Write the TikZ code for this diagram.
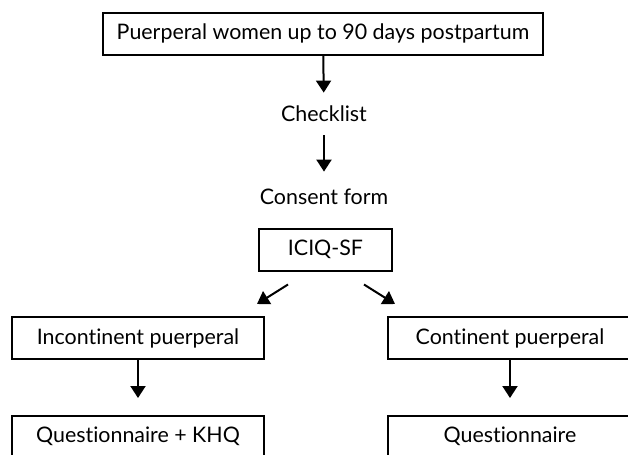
\documentclass[tikz,border=0pt]{standalone}
\usepackage{fontspec}
\setmainfont{Lato}[Ligatures=NoCommon]
\usetikzlibrary{arrows.meta,positioning,calc}

\begin{document}
\begin{tikzpicture}[
  x=0.5pt, y=-0.5pt,
  every node/.style={font=\fontsize{10.7}{12}\selectfont},
  box/.style={draw=black, line width=1pt, minimum height=21pt, inner sep=0pt},
  lbl/.style={minimum height=21pt, inner sep=0pt},
  arr/.style={-{Triangle[length=6pt,width=7.5pt]}, line width=1pt}
]
\clip (0,0) rectangle (628,455);

\node[box, minimum width=220pt] (women) at (323,33.5) {Puerperal women up to 90 days postpartum};
\node[lbl] (check) at (324,114) {Checklist};
\node[lbl, minimum height=25pt] (consent) at (324,197) {Consent form};
\node[box, minimum width=66.5pt] (iciq) at (325.5,249.5) {ICIQ-SF};

\node[box, minimum width=126pt] (incont) at (138,338) {Incontinent puerperal};
\node[box, minimum width=122pt] (cont) at (510,338) {Continent puerperal};
\node[box, minimum width=126pt, minimum height=20pt] (qkhq) at (138,436) {Questionnaire + KHQ};
\node[box, minimum width=122pt, minimum height=20pt] (quest) at (510,436) {Questionnaire};

\draw[arr] (women) -- (check);
\draw[arr] (check) -- (consent);
\draw[arr] ($(iciq.south)+(-37.5,13)$) -- ($(incont.north east)+(-8,-12)$);
\draw[arr] ($(iciq.south)+(38.5,13)$) -- ($(cont.north west)+(8,-12)$);
\draw[arr, shorten >=8.5pt] (incont) -- (qkhq);
\draw[arr, shorten >=8.5pt] (cont) -- (quest);
\end{tikzpicture}
\end{document}
